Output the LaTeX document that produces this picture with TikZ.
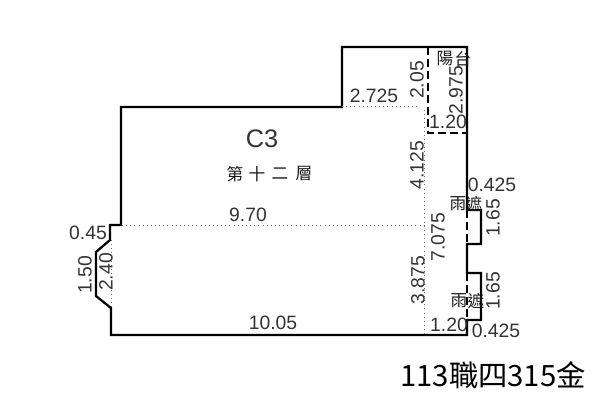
\documentclass[tikz,border=0pt]{standalone}
\usepackage{fontspec}
\setmainfont{Liberation Sans}
\newfontfamily\cjk{Noto Sans CJK TC}
\tikzset{
  wall/.style={line width=1.7pt,line join=miter,black},
  dashwall/.style={line width=1.5pt,dash pattern=on 6pt off 3pt,black},
  dim/.style={draw=black!55,line width=0.5pt,dash pattern=on 0.7pt off 2.4pt},
  lab/.style={inner sep=0pt,font=\fontsize{14.5}{15}\selectfont,text=black!80},
  cj/.style={inner sep=0pt,font=\cjk\fontsize{12.5}{13}\selectfont,text=black!90},
}
\begin{document}
\begin{tikzpicture}[x=0.75pt,y=-0.75pt]
\useasboundingbox (0,0) rectangle (601,400);
\coordinate (a) at (342,47);
\coordinate (b) at (467,47);
\coordinate (c) at (467,210);
\coordinate (d) at (481,210);
\coordinate (e) at (481,244);
\coordinate (f) at (467,244);
\coordinate (g) at (467,273);
\coordinate (h) at (481,273);
\coordinate (i) at (481,320);
\coordinate (j) at (467,320);
\coordinate (k) at (467,335);
\coordinate (l) at (111,335);
\coordinate (m) at (111,308);
\coordinate (n) at (96,296);
\coordinate (o) at (96,252);
\coordinate (p) at (110,240);
\coordinate (q) at (110,225);
\coordinate (r) at (121,225);
\coordinate (s) at (121,107);
\coordinate (t) at (342,107);
\draw[wall] (c) -- (d) -- (e) -- (f) -- (g) -- (h) -- (i) -- (j) -- (k) -- (l) -- (m) -- (n) -- (o) -- (p) -- (q) -- (r) -- (s) -- (t) -- (a) -- (b) -- (c) -- cycle;
\fill[white] (465,212) rectangle (469,242);
\fill[white] (465,275) rectangle (469,318);
\draw[dashwall] (467,210) -- (467,244);
\draw[dashwall] (467,273) -- (467,320);
\coordinate (v1) at (428,47);
\coordinate (v2) at (428,133);
\coordinate (v3) at (467,133);
\draw[dashwall] (v1) -- (v2) -- (v3);
\draw[dim] (342,106) -- (420,106);
\draw[dim] (424,110) -- (424,335);
\draw[dim] (122,225) -- (424,225);
\draw[dim] (111,240) -- (111,308);
\node[lab] at (374,96) {2.725};
\node[lab,rotate=90] at (417,80) {2.05};
\node[lab,rotate=90] at (456,90) {2.975};
\node[lab] at (448,122) {1.20};
\node[lab,rotate=90] at (417,165) {4.125};
\node[lab,rotate=90] at (438,237) {7.075};
\node[lab,rotate=90] at (418,280) {3.875};
\node[lab] at (492,185) {0.425};
\node[lab,rotate=90] at (493,218) {1.65};
\node[lab,rotate=90] at (493,291) {1.65};
\node[lab] at (496,331) {0.425};
\node[lab] at (449,325) {1.20};
\node[lab] at (248,215) {9.70};
\node[lab] at (273,323) {10.05};
\node[lab] at (88,233) {0.45};
\node[lab,rotate=90] at (85,275) {1.50};
\node[lab,rotate=90] at (106,272) {2.40};
\node[inner sep=0pt,font=\fontsize{19}{20}\selectfont,text=black!80] at (262,139) {C3};
\node[cj] at (235,174) {第};
\node[cj] at (257,174) {十};
\node[cj] at (280,174) {二};
\node[cj] at (304,174) {層};
\node[cj] at (458,204) {雨};
\node[cj] at (474,204) {遮};
\node[cj] at (459,301) {雨};
\node[cj] at (476,301) {遮};
\node[cj] at (445,59) {陽};
\node[cj] at (463,59) {台};
\node[inner sep=0pt,font=\cjk\fontsize{22}{24}\selectfont,text=black] at (493,375) {113職四315金};
\end{tikzpicture}
\end{document}
